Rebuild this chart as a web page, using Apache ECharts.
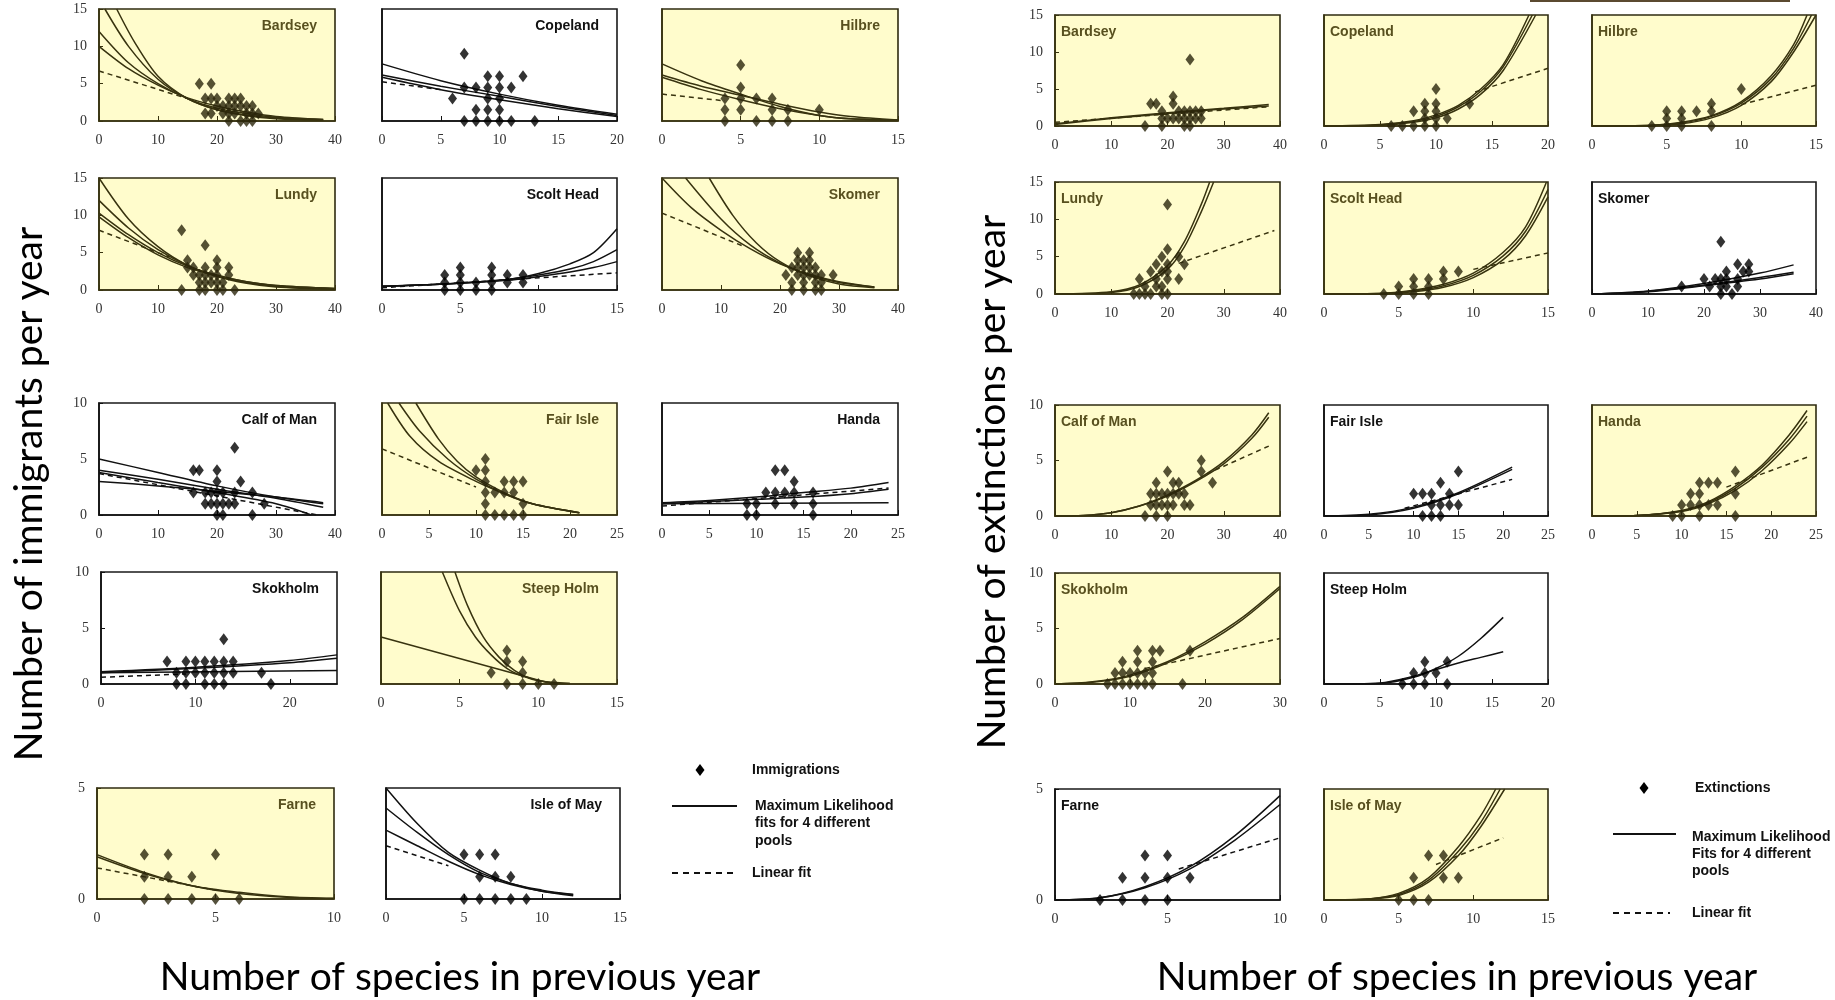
<!DOCTYPE html>
<html>
<head>
<meta charset="utf-8">
<script src="https://cdn.jsdelivr.net/npm/echarts@6/dist/echarts.min.js"></script>
<style>
html, body { margin: 0; padding: 0; background: #fff; }
#chart { width: 1835px; height: 1000px; }
</style>
</head>
<body>
<div id="chart"></div>
<script>
// ---- immigrations (left block) ----
var imBardseyPts = [[17,5],[19,5],[18,3],[19,3],[20,3],[22,3],[23,3],[24,3],[20,2],[21,2],[22,2],[23,2],[24,2],[25,2],[26,2],[18,1],[19,1],[21,1],[22,1],[23,1],[25,1],[26,1],[27,1],[22,0],[24,0],[25,0],[26,0]];
var imBardseyFits = [
  [[1,15],[5,10],[10,5.6],[15,3],[20,1.5],[25,0.8],[30,0.4],[38,0.1]],
  [[3,15],[6,10.6],[10,6],[15,3],[20,1.5],[25,0.7],[30,0.3],[38,0.1]],
  [[0,12],[5,7.8],[10,5],[15,3],[20,1.7],[25,1],[30,0.5],[38,0.2]],
  [[0,10],[5,7],[10,4.8],[15,3.1],[20,2],[25,1.2],[30,0.6],[38,0.2]]
];
var imBardseyLin = [[0,6.7],[15,3]];

var imCopelandPts = [[7,6],[9,4],[10,4],[12,4],[7,3],[8,3],[9,3],[10,3],[11,3],[6,2],[9,2],[10,2],[8,1],[9,1],[10,1],[7,0],[8,0],[9,0],[10,0],[11,0],[13,0]];
var imCopelandFits = [
  [[0,5.1],[5,3.6],[10,2.4],[15,1.4],[20,0.6]],
  [[0,4.1],[5,3.1],[10,2.2],[15,1.3],[20,0.5]],
  [[0,3.9],[5,2.8],[10,1.9],[15,1.1],[20,0.4]]
];
var imCopelandLin = [[0,3.5],[5,2.8]];

var imHilbrePts = [[5,5],[5,3],[4,2],[5,2],[6,2],[7,2],[4,1],[5,1],[7,1],[8,1],[10,1],[4,0],[6,0],[7,0],[8,0]];
var imHilbreFits = [
  [[0,5.1],[2.5,3.6],[5,2.4],[7.5,1.3],[10,0.5],[12,0.2],[15,0.1]],
  [[0,4.1],[2.5,3.1],[5,2.3],[7.5,1.5],[10,0.8],[12,0.4],[15,0.1]],
  [[0,3.9],[2.5,2.8],[5,1.9],[7.5,1.1],[10,0.5],[12,0.2],[15,0.1]]
];
var imHilbreLin = [[0,2.4],[4,1.8]];

var imLundyPts = [[14,8],[18,6],[15,4],[20,4],[15,3],[16,3],[18,3],[20,3],[22,3],[16,2],[17,2],[18,2],[19,2],[20,2],[22,2],[17,1],[18,1],[19,1],[20,1],[21,1],[14,0],[17,0],[18,0],[20,0],[21,0],[23,0]];
var imLundyFits = [
  [[0,15],[5,9.5],[10,5.8],[15,3.3],[20,1.8],[25,0.9],[30,0.4],[40,0.1]],
  [[0,12],[5,8.3],[10,5.4],[15,3.3],[20,1.9],[25,1],[30,0.5],[40,0.1]],
  [[0,10.3],[5,7.4],[10,5],[15,3.2],[20,2],[25,1.1],[30,0.6],[40,0.2]],
  [[0,9.8],[5,7],[10,4.7],[15,3],[20,1.9],[25,1.1],[30,0.6],[40,0.2]]
];
var imLundyLin = [[0,8],[12,4.4]];

var imScoltPts = [[5,3],[7,3],[4,2],[5,2],[7,2],[8,2],[9,2],[4,1],[5,1],[6,1],[7,1],[8,1],[9,1],[4,0],[5,0],[6,0],[7,0]];
var imScoltFits = [
  [[0,0.5],[4,0.8],[8,1.4],[10,2.2],[12,3.5],[13.5,5],[15,8.2]],
  [[0,0.5],[4,0.8],[8,1.4],[10,2],[12,2.8],[13.5,3.8],[15,5.4]],
  [[0,0.5],[4,0.8],[8,1.3],[10,1.8],[12,2.4],[13.5,3],[15,3.8]]
];
var imScoltLin = [[0,0.3],[15,2.3]];

var imSkomerPts = [[23,5],[25,5],[23,4],[24,4],[25,4],[22,3],[23,3],[24,3],[25,3],[26,3],[21,2],[23,2],[24,2],[25,2],[26,2],[27,2],[29,2],[22,1],[24,1],[26,1],[27,1],[22,0],[24,0],[26,0],[27,0]];
var imSkomerFits = [
  [[0,15],[5,11],[10,8],[15,5.5],[20,3.5],[25,2.1],[30,1.1],[36,0.4]],
  [[4,15],[10,9.5],[15,6],[20,3.6],[25,2],[30,1],[36,0.4]],
  [[8,15],[12,10],[16,6.3],[20,3.8],[25,1.9],[30,0.8],[36,0.3]]
];
var imSkomerLin = [[0,10.3],[14,5.8]];

var imCalfPts = [[23,6],[16,4],[17,4],[20,4],[20,3],[24,3],[16,2],[18,2],[19,2],[20,2],[21,2],[23,2],[26,2],[18,1],[19,1],[20,1],[21,1],[22,1],[23,1],[28,1],[20,0],[21,0],[26,0]];
var imCalfFits = [
  [[0,5],[10,3.8],[20,2.6],[30,1.6],[38,1]],
  [[0,4],[10,3.2],[20,2.3],[30,1.5],[38,0.7]],
  [[0,3],[10,2.6],[20,2.1],[30,1.6],[38,1.1]],
  [[0,3.8],[10,2.9],[20,2],[30,1],[36,0]]
];
var imCalfLin = [[0,3.7],[37,0]];

var imFairPts = [[11,5],[10,4],[11,4],[11,3],[13,3],[14,3],[15,3],[11,2],[12,2],[13,2],[14,2],[11,1],[15,1],[11,0],[12,0],[13,0],[14,0],[15,0]];
var imFairFits = [
  [[0.6,10],[3,7],[6,4.8],[10,3],[13,1.9],[16,1],[21,0.2]],
  [[1.8,10],[4,7.5],[7,5],[10,3.2],[13,1.9],[16,1],[21,0.2]],
  [[3.6,10],[6,6.8],[8,4.8],[10,3.4],[13,2],[16,1],[21,0.2]]
];
var imFairLin = [[0,5.9],[10,2.5]];

var imHandaPts = [[12,4],[13,4],[14,3],[11,2],[12,2],[13,2],[14,2],[16,2],[9,1],[10,1],[12,1],[14,1],[16,1],[9,0],[10,0],[16,0]];
var imHandaFits = [
  [[0,1.1],[5,1.3],[10,1.6],[15,2],[20,2.4],[24,2.9]],
  [[0,1],[5,1.2],[10,1.4],[15,1.6],[20,1.9],[24,2.3]],
  [[0,1],[24,1.1]]
];
var imHandaLin = [[0,0.8],[24,2.4]];

var imSkokholmPts = [[13,4],[7,2],[9,2],[10,2],[11,2],[12,2],[13,2],[14,2],[8,1],[9,1],[10,1],[11,1],[12,1],[13,1],[14,1],[17,1],[8,0],[9,0],[11,0],[12,0],[13,0],[18,0]];
var imSkokholmFits = [
  [[0,1.1],[10,1.5],[20,2.1],[25,2.6]],
  [[0,1],[10,1.4],[20,1.9],[25,2.3]],
  [[0,1],[25,1.2]]
];
var imSkokholmLin = [[0,0.6],[9,0.9]];

var imSteepPts = [[8,3],[8,2],[9,2],[7,1],[9,1],[8,0],[9,0],[10,0],[11,0]];
var imSteepFits = [
  [[3.9,10],[5,6.5],[6,4.2],[7,2.6],[8,1.4],[9,0.7],[10,0.3],[12,0.05]],
  [[4.7,10],[5.5,7],[6.5,4.2],[7.5,2.4],[8.5,1.2],[9.5,0.5],[11,0.1],[12,0.05]],
  [[0,4.2],[10.9,0]]
];
var imSteepLin = [];

var imFarnePts = [[2,2],[3,2],[5,2],[2,1],[3,1],[4,1],[2,0],[3,0],[4,0],[5,0],[6,0]];
var imFarneFits = [
  [[0,2],[2,1.2],[4,0.6],[6,0.25],[8,0.08],[10,0.02]],
  [[0,1.9],[2,1.15],[4,0.6],[6,0.3],[8,0.1],[10,0.03]]
];
var imFarneLin = [[0,1.4],[5,0.4]];

var imMayPts = [[5,2],[6,2],[7,2],[6,1],[7,1],[8,1],[5,0],[6,0],[7,0],[8,0],[9,0]];
var imMayFits = [
  [[0,5],[2,3.4],[4,2.1],[6,1.3],[8,0.7],[10,0.4],[12,0.2]],
  [[0,4.1],[2,3],[4,2],[6,1.2],[8,0.7],[10,0.35],[12,0.15]],
  [[0,3.1],[2,2.4],[4,1.7],[6,1.1],[8,0.65],[10,0.35],[12,0.2]]
];
var imMayLin = [[0,2.4],[4,1.5]];

// ---- extinctions (right block) ----
var exBardseyPts = [[24,9],[21,4],[17,3],[18,3],[21,3],[19,2],[22,2],[23,2],[24,2],[25,2],[26,2],[19,1],[20,1],[21,1],[22,1],[23,1],[24,1],[25,1],[26,1],[16,0],[19,0],[23,0],[24,0]];
var exBardseyFits = [
  [[0,0.3],[10,1.1],[20,1.8],[30,2.4],[38,2.9]],
  [[0,0.2],[10,1],[20,1.7],[30,2.3],[38,2.7]]
];
var exBardseyLin = [[0,0.5],[38,2.6]];

var exCopelandPts = [[10,5],[9,3],[10,3],[13,3],[8,2],[9,2],[10,2],[9,1],[10,1],[11,1],[6,0],[7,0],[8,0],[9,0],[10,0]];
var exCopelandFits = [
  [[0,0],[5,0.2],[8,0.7],[10,1.5],[12,2.8],[14,5],[16,8.3],[18.3,15]],
  [[0,0],[5,0.15],[8,0.6],[10,1.3],[12,2.6],[14,4.7],[16,8],[18.6,15]],
  [[0,0],[5,0.1],[8,0.5],[10,1.1],[12,2.3],[14,4.3],[16,7.5],[18.9,15]]
];
var exCopelandLin = [[13.5,4.6],[20,7.8]];

var exHilbrePts = [[10,5],[8,3],[5,2],[6,2],[7,2],[8,2],[5,1],[6,1],[4,0],[5,0],[6,0],[8,0]];
var exHilbreFits = [
  [[0,0],[4,0.1],[6,0.5],[8,1.4],[10,3.3],[12,6.8],[13.5,11],[14.4,15]],
  [[0,0],[4,0.1],[6,0.4],[8,1.3],[10,3.1],[12,6.4],[13.5,10.5],[14.7,15]],
  [[0,0],[4,0.05],[6,0.3],[8,1.1],[10,2.8],[12,6],[13.5,10],[15,15]]
];
var exHilbreLin = [[10,2.9],[15,5.5]];

var exLundyPts = [[20,12],[20,6],[19,5],[22,5],[18,4],[20,4],[23,4],[17,3],[19,3],[20,3],[15,2],[18,2],[20,2],[22,2],[16,1],[18,1],[19,1],[14,0],[15,0],[16,0],[17,0],[19,0],[20,0]];
var exLundyFits = [
  [[0,0],[10,0.3],[15,1.2],[20,3.8],[23,7],[26,12],[27.5,15]],
  [[0,0],[10,0.2],[15,1],[20,3.3],[23,6.3],[26,11],[28.2,15]]
];
var exLundyLin = [[22,4.1],[39,8.5]];

var exScoltPts = [[8,3],[9,3],[6,2],[7,2],[8,2],[5,1],[6,1],[7,1],[4,0],[5,0],[6,0],[7,0]];
var exScoltFits = [
  [[0,0],[4,0.1],[6,0.5],[8,1.3],[10,2.8],[12,5.6],[13.5,9],[14.9,15]],
  [[0,0],[4,0.1],[6,0.4],[8,1.1],[10,2.5],[12,5.1],[13.5,8.4],[15,14]],
  [[0,0],[4,0.05],[6,0.3],[8,0.9],[10,2.2],[12,4.6],[13.5,7.8],[15,13]]
];
var exScoltLin = [[10,3.3],[15,5.5]];

var exSkomerPts = [[23,7],[26,4],[28,4],[24,3],[27,3],[28,3],[20,2],[22,2],[23,2],[24,2],[26,2],[16,1],[21,1],[23,1],[24,1],[26,1],[23,0],[25,0]];
var exSkomerFits = [
  [[0,0],[10,0.4],[20,1.4],[30,2.8],[36,3.9]],
  [[0,0],[10,0.35],[20,1.2],[30,2.2],[36,2.9]],
  [[0,0],[10,0.3],[20,1.1],[30,2],[36,2.7]]
];
var exSkomerLin = [];

var exCalfPts = [[26,5],[20,4],[26,4],[18,3],[21,3],[22,3],[28,3],[17,2],[18,2],[19,2],[20,2],[21,2],[22,2],[23,2],[17,1],[18,1],[19,1],[20,1],[21,1],[23,1],[24,1],[16,0],[18,0],[20,0]];
var exCalfFits = [
  [[0,0],[5,0.05],[10,0.3],[15,0.9],[20,1.9],[25,3.2],[30,4.9],[35,7.3],[38,9.3]],
  [[0,0],[5,0.05],[10,0.3],[15,0.9],[20,1.8],[25,3.1],[30,4.7],[35,7],[38,8.9]]
];
var exCalfLin = [[27,3.8],[38,6.3]];

var exFairPts = [[15,4],[13,3],[10,2],[11,2],[12,2],[14,2],[12,1],[13,1],[14,1],[15,1],[11,0],[12,0],[13,0]];
var exFairFits = [
  [[0,0],[5,0.15],[10,0.8],[15,2.1],[21,4.4]],
  [[0,0],[5,0.1],[10,0.7],[15,2],[21,4.2]]
];
var exFairLin = [[9,0.7],[21,3.3]];

var exHandaPts = [[16,4],[12,3],[13,3],[14,3],[11,2],[12,2],[16,2],[10,1],[11,1],[12,1],[13,1],[14,1],[9,0],[10,0],[12,0],[16,0]];
var exHandaFits = [
  [[0,0],[5,0.05],[10,0.5],[13,1.3],[16,2.7],[19,4.6],[22,7.3],[24,9.5]],
  [[0,0],[5,0.05],[10,0.45],[13,1.2],[16,2.5],[19,4.4],[22,6.9],[24,9]],
  [[0,0],[5,0.05],[10,0.4],[13,1.1],[16,2.3],[19,4.1],[22,6.5],[24,8.5]]
];
var exHandaLin = [[15,2.6],[24,5.3]];

var exSkokholmPts = [[11,3],[13,3],[14,3],[18,3],[9,2],[11,2],[13,2],[8,1],[9,1],[10,1],[11,1],[12,1],[13,1],[7,0],[8,0],[9,0],[10,0],[11,0],[12,0],[13,0],[17,0]];
var exSkokholmFits = [
  [[0,0],[5,0.2],[10,0.8],[15,2],[20,3.8],[25,6],[30,8.8]],
  [[0,0],[5,0.15],[10,0.7],[15,1.9],[20,3.6],[25,5.8],[30,8.6]]
];
var exSkokholmLin = [[12,1.4],[30,4.1]];

var exSteepPts = [[9,2],[11,2],[8,1],[9,1],[10,1],[7,0],[8,0],[9,0],[11,0]];
var exSteepFits = [
  [[0,0],[5,0.05],[8,0.6],[10,1.4],[12,2.5],[14,4.1],[16,6]],
  [[0,0],[5,0.1],[8,0.7],[10,1.3],[12,1.9],[14,2.4],[16,2.9]]
];
var exSteepLin = [];

var exFarnePts = [[4,2],[5,2],[3,1],[4,1],[5,1],[6,1],[2,0],[3,0],[4,0],[5,0]];
var exFarneFits = [
  [[0,0],[2,0.1],[4,0.6],[6,1.5],[8,2.9],[10,4.7]],
  [[0,0],[2,0.1],[4,0.55],[6,1.4],[8,2.7],[10,4.3]]
];
var exFarneLin = [[5.5,1.4],[10,2.8]];

var exMayPts = [[7,2],[8,2],[6,1],[8,1],[9,1],[5,0],[6,0],[7,0]];
var exMayFits = [
  [[0,0],[3,0.05],[5,0.3],[7,1],[9,2.4],[10.5,3.8],[11.5,5]],
  [[0,0],[3,0.05],[5,0.25],[7,0.9],[9,2.2],[10.5,3.5],[11.8,5]],
  [[0,0],[3,0.04],[5,0.2],[7,0.8],[9,2],[10.5,3.3],[12.1,5]]
];
var exMayLin = [[7.5,1.6],[12,2.8]];

// panel layout: name, side, box [left, top, width, height], x max/interval, y max/interval
var panels = [
  {name:'Bardsey', side:'L', box:[99,9,236,112], x:[40,10], y:[15,5], lab:true, yel:true, pts:imBardseyPts, fits:imBardseyFits, lin:imBardseyLin},
  {name:'Copeland', side:'L', box:[382,9,235,112], x:[20,5], y:[10,5], lab:false, yel:false, pts:imCopelandPts, fits:imCopelandFits, lin:imCopelandLin},
  {name:'Hilbre', side:'L', box:[662,9,236,112], x:[15,5], y:[10,5], lab:false, yel:true, pts:imHilbrePts, fits:imHilbreFits, lin:imHilbreLin},
  {name:'Lundy', side:'L', box:[99,178,236,112], x:[40,10], y:[15,5], lab:true, yel:true, pts:imLundyPts, fits:imLundyFits, lin:imLundyLin},
  {name:'Scolt Head', side:'L', box:[382,178,235,112], x:[15,5], y:[15,5], lab:false, yel:false, pts:imScoltPts, fits:imScoltFits, lin:imScoltLin},
  {name:'Skomer', side:'L', box:[662,178,236,112], x:[40,10], y:[15,5], lab:false, yel:true, pts:imSkomerPts, fits:imSkomerFits, lin:imSkomerLin},
  {name:'Calf of Man', side:'L', box:[99,403,236,112], x:[40,10], y:[10,5], lab:true, yel:false, pts:imCalfPts, fits:imCalfFits, lin:imCalfLin},
  {name:'Fair Isle', side:'L', box:[382,403,235,112], x:[25,5], y:[10,5], lab:false, yel:true, pts:imFairPts, fits:imFairFits, lin:imFairLin},
  {name:'Handa', side:'L', box:[662,403,236,112], x:[25,5], y:[10,5], lab:false, yel:false, pts:imHandaPts, fits:imHandaFits, lin:imHandaLin},
  {name:'Skokholm', side:'L', box:[101,572,236,112], x:[25,10], y:[10,5], lab:true, yel:false, noMax:true, pts:imSkokholmPts, fits:imSkokholmFits, lin:imSkokholmLin},
  {name:'Steep Holm', side:'L', box:[381,572,236,112], x:[15,5], y:[10,5], lab:false, yel:true, pts:imSteepPts, fits:imSteepFits, lin:imSteepLin},
  {name:'Farne', side:'L', box:[97,788,237,111], x:[10,5], y:[5,5], lab:true, yel:true, pts:imFarnePts, fits:imFarneFits, lin:imFarneLin},
  {name:'Isle of May', side:'L', box:[386,788,234,111], x:[15,5], y:[5,5], lab:false, yel:false, pts:imMayPts, fits:imMayFits, lin:imMayLin},

  {name:'Bardsey', side:'R', box:[1055,15,225,111], x:[40,10], y:[15,5], lab:true, yel:true, pts:exBardseyPts, fits:exBardseyFits, lin:exBardseyLin},
  {name:'Copeland', side:'R', box:[1324,15,224,111], x:[20,5], y:[15,5], lab:false, yel:true, pts:exCopelandPts, fits:exCopelandFits, lin:exCopelandLin},
  {name:'Hilbre', side:'R', box:[1592,15,224,111], x:[15,5], y:[15,5], lab:false, yel:true, pts:exHilbrePts, fits:exHilbreFits, lin:exHilbreLin},
  {name:'Lundy', side:'R', box:[1055,182,225,112], x:[40,10], y:[15,5], lab:true, yel:true, pts:exLundyPts, fits:exLundyFits, lin:exLundyLin},
  {name:'Scolt Head', side:'R', box:[1324,182,224,112], x:[15,5], y:[15,5], lab:false, yel:true, pts:exScoltPts, fits:exScoltFits, lin:exScoltLin},
  {name:'Skomer', side:'R', box:[1592,182,224,112], x:[40,10], y:[15,5], lab:false, yel:false, pts:exSkomerPts, fits:exSkomerFits, lin:exSkomerLin},
  {name:'Calf of Man', side:'R', box:[1055,405,225,111], x:[40,10], y:[10,5], lab:true, yel:true, pts:exCalfPts, fits:exCalfFits, lin:exCalfLin},
  {name:'Fair Isle', side:'R', box:[1324,405,224,111], x:[25,5], y:[10,5], lab:false, yel:false, pts:exFairPts, fits:exFairFits, lin:exFairLin},
  {name:'Handa', side:'R', box:[1592,405,224,111], x:[25,5], y:[10,5], lab:false, yel:true, pts:exHandaPts, fits:exHandaFits, lin:exHandaLin},
  {name:'Skokholm', side:'R', box:[1055,573,225,111], x:[30,10], y:[10,5], lab:true, yel:true, pts:exSkokholmPts, fits:exSkokholmFits, lin:exSkokholmLin},
  {name:'Steep Holm', side:'R', box:[1324,573,224,111], x:[20,5], y:[10,5], lab:false, yel:false, pts:exSteepPts, fits:exSteepFits, lin:exSteepLin},
  {name:'Farne', side:'R', box:[1055,789,225,111], x:[10,5], y:[5,5], lab:true, yel:false, pts:exFarnePts, fits:exFarneFits, lin:exFarneLin},
  {name:'Isle of May', side:'R', box:[1324,789,224,111], x:[15,5], y:[5,5], lab:false, yel:true, pts:exMayPts, fits:exMayFits, lin:exMayLin}
];

var YELLOW = '#fffccc';
var OLIVE = '#38330f';
var OLIVE_TXT = '#58501f';
var W = 1835;

var grids = [], xAxes = [], yAxes = [], series = [], titles = [];

panels.forEach(function (p, i) {
  var ink = p.yel ? OLIVE : '#111';
  var b = p.box;
  grids.push({
    left: b[0], top: b[1], width: b[2], height: b[3],
    show: true, backgroundColor: p.yel ? YELLOW : '#fff',
    borderColor: p.yel ? '#2f2b10' : '#1a1a1a', borderWidth: 1.6
  });
  var tickLabel = {fontFamily: 'Liberation Serif', fontSize: 14, color: '#333'};
  xAxes.push({
    gridIndex: i, type: 'value', min: 0, max: p.x[0], interval: p.x[1],
    axisLine: {show: true, lineStyle: {color: ink, width: 1.6}},
    axisTick: {show: true, inside: true, length: 5, lineStyle: {color: ink}},
    axisLabel: Object.assign({margin: 12, showMaxLabel: p.noMax ? false : null}, tickLabel),
    splitLine: {show: false}
  });
  yAxes.push({
    gridIndex: i, type: 'value', min: 0, max: p.y[0], interval: p.y[1],
    axisLine: {show: true, lineStyle: {color: ink, width: 1.6}},
    axisTick: {show: p.lab, inside: true, length: 4, lineStyle: {color: ink}},
    axisLabel: Object.assign({show: p.lab, margin: 12}, tickLabel),
    splitLine: {show: false}
  });
  p.fits.forEach(function (f) {
    series.push({
      type: 'line', xAxisIndex: i, yAxisIndex: i, data: f,
      smooth: 0.3, symbol: 'none', silent: true, clip: true,
      lineStyle: {color: ink, width: 1.5}
    });
  });
  if (p.lin.length) {
    series.push({
      type: 'line', xAxisIndex: i, yAxisIndex: i, data: p.lin,
      symbol: 'none', silent: true, clip: true,
      lineStyle: {color: ink, width: 1.5, type: [5, 4]}
    });
  }
  series.push({
    type: 'scatter', xAxisIndex: i, yAxisIndex: i, data: p.pts,
    symbol: 'diamond', symbolSize: [9, 12], z: 5,
    itemStyle: {color: p.yel ? '#2a260b' : '#000'}
  });
  var t = {
    text: p.name, padding: 0, top: b[1] + 10,
    textStyle: {fontFamily: 'Liberation Sans', fontWeight: 'bold', fontSize: 14, color: p.yel ? OLIVE_TXT : '#111'}
  };
  if (p.side === 'L') t.right = W - (b[0] + b[2]) + 18;
  else t.left = b[0] + 6;
  titles.push(t);
});

function diamond(cx, cy) {
  return {type: 'polygon', shape: {points: [[cx - 4.5, cy], [cx, cy - 6], [cx + 4.5, cy], [cx, cy + 6]]}, style: {fill: '#000'}};
}
var bigFont = '39px Lato';
var legFont = 'bold 14px "Liberation Sans"';

var graphics = [
  {type: 'rect', shape: {x: 1530, y: 0, width: 260, height: 2}, style: {fill: '#5b4a30'}},
  {type: 'text', x: 29, y: 494, rotation: Math.PI / 2,
    style: {text: 'Number of immigrants per year', font: bigFont, fill: '#000', align: 'center', verticalAlign: 'middle'}},
  {type: 'text', x: 992, y: 482, rotation: Math.PI / 2,
    style: {text: 'Number of extinctions per year', font: bigFont, fill: '#000', align: 'center', verticalAlign: 'middle'}},
  {type: 'text', x: 460, y: 977,
    style: {text: 'Number of species in previous year', font: bigFont, fill: '#000', align: 'center', verticalAlign: 'middle'}},
  {type: 'text', x: 1457, y: 977,
    style: {text: 'Number of species in previous year', font: bigFont, fill: '#000', align: 'center', verticalAlign: 'middle'}},

  diamond(700, 770),
  {type: 'text', x: 752, y: 770, style: {text: 'Immigrations', font: legFont, fill: '#111', verticalAlign: 'middle'}},
  {type: 'line', shape: {x1: 672, y1: 806, x2: 737, y2: 806}, style: {stroke: '#111', lineWidth: 1.8}},
  {type: 'text', x: 755, y: 797, style: {text: 'Maximum Likelihood\nfits for 4 different\npools', font: legFont, lineHeight: 17.5, fill: '#111'}},
  {type: 'line', shape: {x1: 672, y1: 873, x2: 733, y2: 873}, style: {stroke: '#111', lineWidth: 1.8, lineDash: [6, 5]}},
  {type: 'text', x: 752, y: 873, style: {text: 'Linear fit', font: legFont, fill: '#111', verticalAlign: 'middle'}},

  diamond(1644, 788),
  {type: 'text', x: 1695, y: 788, style: {text: 'Extinctions', font: legFont, fill: '#111', verticalAlign: 'middle'}},
  {type: 'line', shape: {x1: 1613, y1: 834, x2: 1676, y2: 834}, style: {stroke: '#111', lineWidth: 1.8}},
  {type: 'text', x: 1692, y: 829, style: {text: 'Maximum Likelihood\nFits for 4 different\npools', font: legFont, lineHeight: 17, fill: '#111'}},
  {type: 'line', shape: {x1: 1613, y1: 913, x2: 1670, y2: 913}, style: {stroke: '#111', lineWidth: 1.8, lineDash: [6, 5]}},
  {type: 'text', x: 1692, y: 913, style: {text: 'Linear fit', font: legFont, fill: '#111', verticalAlign: 'middle'}}
];

var myChart = echarts.init(document.getElementById('chart'), null, {renderer: 'canvas'});
myChart.setOption({
  animation: false,
  backgroundColor: '#fff',
  title: titles,
  grid: grids,
  xAxis: xAxes,
  yAxis: yAxes,
  series: series,
  graphic: graphics
});
</script>
</body>
</html>
